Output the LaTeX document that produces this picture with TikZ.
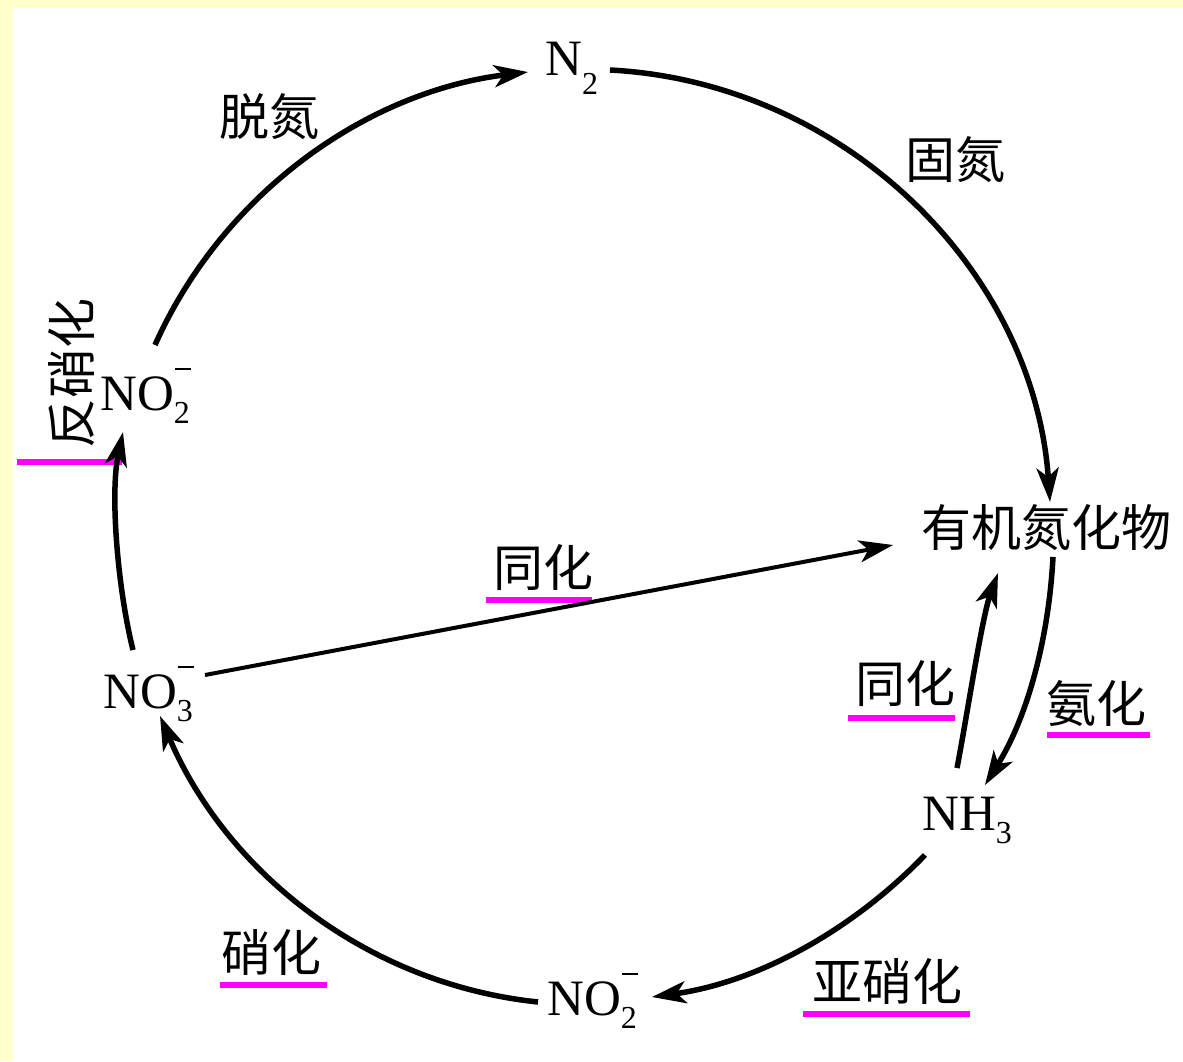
\documentclass[tikz,border=0pt]{standalone}
\usepackage{fontspec}
\setmainfont{Liberation Serif}
\newfontfamily\cjk{Noto Sans CJK SC}
\usetikzlibrary{arrows.meta}
\definecolor{bgyellow}{HTML}{FFFFCC}
\definecolor{ulmag}{HTML}{FF00FF}
\newcommand\chsub[2][13pt]{\raisebox{-#1}{\fontsize{32}{32}\selectfont #2}}
\newcommand\chsubm[1]{\rlap{\raisebox{40pt}{\hspace{1pt}\rule{16pt}{2.2pt}}}\chsub{#1}}
\begin{document}
\begin{tikzpicture}[x=1pt,y=1pt,
  chem/.style={inner sep=0pt, anchor=base west, font=\fontsize{51}{51}\selectfont},
  lbl/.style={inner sep=0pt, anchor=center, font=\cjk\fontsize{50}{50}\selectfont},
  flow/.style={line width=5.5pt, -{Stealth[length=34pt,width=22pt,inset=9pt]}},
  uline/.style={draw=ulmag, line width=5.5pt},
]
\fill[bgyellow] (0,0) rectangle (1183,-1061);
\fill[white] (13,-8) rectangle (1183,-1061);
\useasboundingbox (0,0) rectangle (1183,-1061);

% substances
\node[chem] (n2) at (545,-75) {N\chsub[19pt]{2}};
\node[chem] (no2l) at (100,-410) {NO\chsubm{2}};
\node[chem] (no3) at (103,-708) {NO\chsubm{3}};
\node[chem] (no2b) at (547,-1015) {NO\chsubm{2}};
\node[chem] (nh3) at (922,-830) {NH\chsub{3}};
\node[lbl] (orgn) at (1046,-528) {有机氮化物};

% process labels
\node[lbl] (ttd) at (269,-117) {脱氮};
\node[lbl] (tgd) at (955,-160) {固氮};
\node[lbl] (tthl) at (543,-568) {同化};
\node[lbl] (tthn) at (905,-684) {同化};
\node[lbl] (tah) at (1096,-703) {氨化};
\node[lbl] (tyxh) at (887,-981) {亚硝化};
\node[lbl] (txh) at (271,-952) {硝化};
\node[lbl, rotate=90] (tfxh) at (72,-373) {反硝化};

% underlines
\draw[uline] ([shift={(-57,-32)}]tthl.center) -- ([shift={(49,-32)}]tthl.center);
\draw[uline] ([shift={(-57,-34)}]tthn.center) -- ([shift={(50,-34)}]tthn.center);
\draw[uline] ([shift={(-49,-32)}]tah.center) -- ([shift={(54,-32)}]tah.center);
\draw[uline] ([shift={(-84,-33)}]tyxh.center) -- ([shift={(83,-33)}]tyxh.center);
\draw[uline] ([shift={(-51,-33)}]txh.center) -- ([shift={(56,-33)}]txh.center);
\draw[uline] ([shift={(-55,-89)}]tfxh.center) -- ([shift={(50,-89)}]tfxh.center);

% cycle
\draw[flow] ([shift={(55,65)}]no2l.base west) to[out=66,in=187,looseness=0.91] ([shift={(-17,3)}]n2.base west);
\draw[flow] ([shift={(65,5)}]n2.base west) to[out=-3,in=94,looseness=0.97] ([shift={(4,26)}]orgn.center);
\draw[flow] ([shift={(7,-29)}]orgn.center) to[out=-93,in=58,looseness=0.87] ([shift={(63,45)}]nh3.base west);
\draw[flow] ([shift={(3,-25)}]nh3.base west) to[out=-134,in=8,looseness=0.88] ([shift={(105,18)}]no2b.base west);
\draw[flow] ([shift={(-9,13)}]no2b.base west) to[out=174,in=-67,looseness=0.92] ([shift={(57,-8)}]no3.base west);
\draw[flow] ([shift={(30,58)}]no3.base west) to[out=104,in=-102,looseness=0.74] ([shift={(23,-22)}]no2l.base west);
\draw[flow] ([shift={(35,62)}]nh3.base west) to[out=79,in=-110,looseness=0.6] ([shift={(-48,-45)}]orgn.center);
\draw[flow, line width=4pt] ([shift={(102,33)}]no3.base west) -- ([shift={(-153,-17)}]orgn.center);
\end{tikzpicture}
\end{document}
